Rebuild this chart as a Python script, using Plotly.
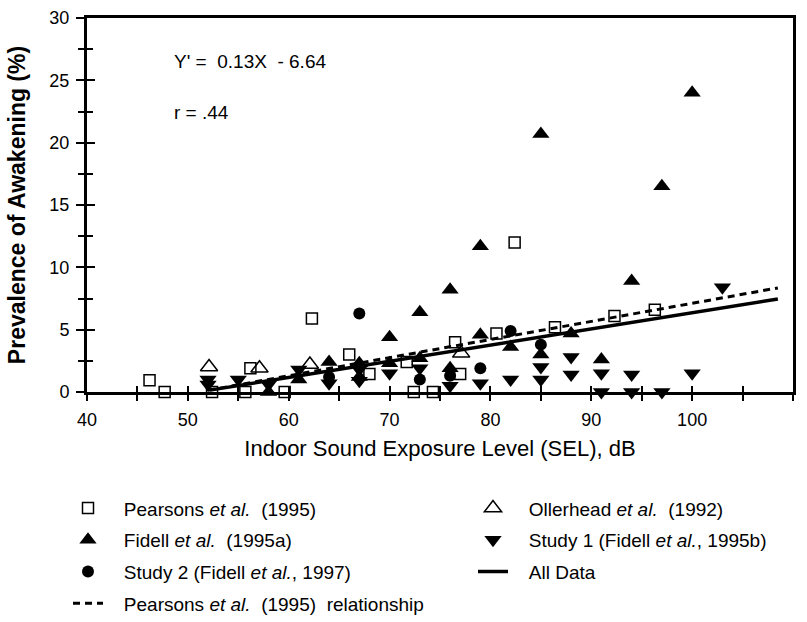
import plotly.graph_objects as go

# ---- data ----
pearsons_x = [46.2, 47.7, 52.4, 55.7, 56.2, 59.6, 62.3, 66.0, 68.0, 71.7, 72.4, 74.3, 76.5, 77.0, 80.6, 82.4, 86.4, 92.3, 96.3]
pearsons_y = [0.95, 0.0, 0.0, 0.0, 1.9, 0.0, 5.9, 3.0, 1.45, 2.4, 0.0, 0.0, 4.0, 1.45, 4.7, 12.0, 5.2, 6.1, 6.6]

ollerhead_x = [52.1, 57.1, 62.1, 77.1]
ollerhead_y = [2.0, 1.9, 2.2, 3.1]

fidell_x = [58, 61, 64, 67, 67, 70, 70, 73, 73, 76, 76, 79, 79, 82, 85, 85, 88, 91, 94, 97, 100]
fidell_y = [0.0, 1.0, 2.4, 2.3, 1.2, 4.4, 2.3, 6.4, 2.7, 8.2, 1.9, 11.7, 4.6, 3.6, 20.7, 3.0, 4.7, 2.6, 8.9, 16.5, 24.0]

study1_x = [52, 52, 55, 58, 61, 64, 67, 67, 70, 73, 76, 79, 82, 85, 85, 88, 88, 91, 91, 94, 94, 97, 100, 103]
study1_y = [1.0, 0.6, 1.0, 0.6, 1.8, 0.7, 1.8, 0.9, 1.5, 1.9, 0.5, 0.7, 1.0, 2.0, 1.0, 2.8, 1.4, 1.5, 0.0, 1.4, 0.0, 0.0, 1.5, 8.4]

study2_x = [64, 67, 73, 76, 79, 82, 85]
study2_y = [1.2, 6.3, 1.0, 1.3, 1.9, 4.9, 3.8]

alldata_x = [52.2, 108.5]
alldata_y = [0.15, 7.46]

pearsons_rel_x = [52.0, 108.5]
pearsons_rel_y = [0.14, 8.35]

x_ticks = [40, 50, 60, 70, 80, 90, 100, 110]
y_ticks = [0, 5, 10, 15, 20, 25, 30]

FONT = "Liberation Sans, Arial, sans-serif"
PAD = "\u00a0\u00a0\u00a0"

fig = go.Figure()

def mk(x, y, name, symbol, size, legend, group, lw=1.5):
    return go.Scatter(x=x, y=y, mode="markers", name=PAD + name, legend=legend,
                      legendgroup=group, cliponaxis=False,
                      marker=dict(symbol=symbol, size=size, color="black",
                                  line=dict(color="black", width=lw)))

fig.add_trace(mk(pearsons_x, pearsons_y, "Pearsons <i>et al.</i>  (1995)", "square-open", 11, "legend", "a"))
fig.add_trace(mk(fidell_x, fidell_y, "Fidell <i>et al.</i>  (1995a)", "triangle-up", 15, "legend", "b", 0))
fig.add_trace(mk(study2_x, study2_y, "Study 2 (Fidell <i>et al.</i>, 1997)", "circle", 12, "legend", "c", 0))
fig.add_trace(go.Scatter(x=pearsons_rel_x, y=pearsons_rel_y, mode="lines", legend="legend", legendgroup="d",
                         name=PAD + "Pearsons <i>et al.</i>  (1995)  relationship",
                         line=dict(color="black", width=3, dash="7px,5px")))
fig.add_trace(mk(ollerhead_x, ollerhead_y, "Ollerhead <i>et al.</i>  (1992)", "triangle-up-open", 15, "legend2", "e"))
fig.add_trace(mk(study1_x, study1_y, "Study 1 (Fidell <i>et al.</i>, 1995b)", "triangle-down", 15, "legend2", "f", 0))
fig.add_trace(go.Scatter(x=alldata_x, y=alldata_y, mode="lines", legend="legend2", legendgroup="g",
                         name=PAD + "All Data", line=dict(color="black", width=3.5)))
# invisible trace to activate the overlay axes (inner half of the crossing ticks)
fig.add_trace(go.Scatter(x=[40], y=[0], xaxis="x2", yaxis="y2", mode="markers",
                         marker=dict(opacity=0), showlegend=False, hoverinfo="skip"))

axis_common = dict(showgrid=False, zeroline=False, color="black")

fig.update_layout(
    width=807, height=622,
    margin=dict(l=87, r=14, t=18, b=230, autoexpand=False),
    paper_bgcolor="white", plot_bgcolor="white",
    font=dict(family=FONT, color="black", size=18),
    showlegend=True,
    xaxis=dict(range=[40, 110], tickvals=x_ticks, ticks="outside", ticklen=6, tickwidth=2,
               minor=dict(dtick=5, tick0=40, ticks="outside", ticklen=6, tickwidth=2, tickcolor="black"),
               showline=True, linewidth=3, linecolor="black", mirror=True,
               tickfont=dict(size=18), ticklabelstandoff=3,
               title=dict(text="Indoor Sound Exposure Level (SEL), dB", font=dict(size=22), standoff=13),
               **axis_common),
    yaxis=dict(range=[0, 30], tickvals=y_ticks, ticks="outside", ticklen=8, tickwidth=2,
               minor=dict(dtick=2.5, tick0=0, ticks="outside", ticklen=6, tickwidth=2, tickcolor="black"),
               showline=True, linewidth=3, linecolor="black", mirror=True,
               tickfont=dict(size=18), ticklabelstandoff=3,
               title=dict(text="<b>Prevalence of Awakening (%)</b>", font=dict(size=23), standoff=18),
               **axis_common),
    xaxis2=dict(range=[40, 110], overlaying="x", anchor="y2", tickvals=x_ticks, ticks="inside",
                ticklen=6, tickwidth=2, showticklabels=False, showline=False,
                minor=dict(dtick=5, tick0=40, ticks="inside", ticklen=6, tickwidth=2, tickcolor="black"),
                **axis_common),
    yaxis2=dict(range=[0, 30], overlaying="y", anchor="x2", tickvals=y_ticks, ticks="inside",
                ticklen=8, tickwidth=2, showticklabels=False, showline=False,
                minor=dict(dtick=2.5, tick0=0, ticks="inside", ticklen=6, tickwidth=2, tickcolor="black"),
                **axis_common),
    legend=dict(x=(68 - 87) / 706, y=-0.26, xanchor="left", yanchor="top", orientation="v",
                traceorder="grouped", tracegroupgap=4, font=dict(size=19),
                bgcolor="rgba(0,0,0,0)", itemsizing="trace"),
    legend2=dict(x=(473 - 87) / 706, y=-0.26, xanchor="left", yanchor="top", orientation="v",
                 traceorder="grouped", tracegroupgap=4, font=dict(size=19),
                 bgcolor="rgba(0,0,0,0)", itemsizing="trace"),
    annotations=[
        dict(x=48.4, y=26.5, xref="x", yref="y", text="Y' =  0.13X  - 6.64", showarrow=False,
             xanchor="left", yanchor="middle", font=dict(size=19)),
        dict(x=48.4, y=22.45, xref="x", yref="y", text="r = .44", showarrow=False,
             xanchor="left", yanchor="middle", font=dict(size=19)),
    ],
)

fig.write_html("out.html", config={"displayModeBar": False, "responsive": False},
               post_script="document.body.style.margin='0px';document.body.style.overflow='hidden';")
